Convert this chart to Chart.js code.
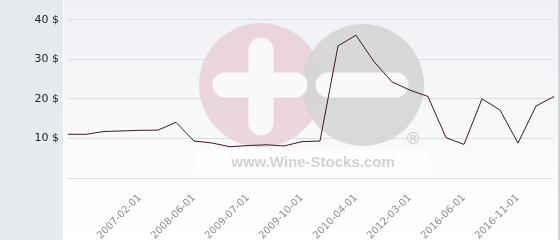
<!DOCTYPE html>
<html>
<head>
<meta charset="utf-8">
<title>Price history</title>
<script src="https://cdn.jsdelivr.net/npm/chart.js@4.4.0/dist/chart.umd.min.js"></script>
<style>
  html, body { margin: 0; padding: 0; background: #fff; }
  #wrap { width: 560px; height: 240px; position: relative; }
</style>
</head>
<body>
<div id="wrap"><canvas id="priceChart" width="560" height="240"></canvas></div>
<script>
// price points, one every few months (only some dates are printed on the axis)
const dates = ['', '', '', '', '2007-02-01', '', '', '2008-06-01', '', '', '2009-07-01', '', '',
  '2009-10-01', '', '', '2010-04-01', '', '', '2012-03-01', '', '', '2016-06-01', '', '',
  '2016-11-01', '', ''];
const prices = [11.05, 11.05, 11.75, 11.9, 12.05, 12.1, 14.1, 9.35, 8.85, 7.9, 8.2, 8.4, 8.1,
  9.2, 9.35, 33.4, 36.1, 29.4, 24.3, 22.2, 20.6, 10.2, 8.5, 20.0, 17.2, 8.8, 18.2, 20.6];
const yTicks = [0, 10, 20, 30, 40];
const currency = '$';

// background panels + the faded wine-stocks watermark
const backdrop = {
  id: 'backdrop',
  beforeDraw(chart) {
    const ctx = chart.ctx;
    ctx.save();
    ctx.fillStyle = '#e7ebee';
    ctx.fillRect(0, 0, 63, 240);
    ctx.fillStyle = '#ffffff';
    ctx.fillRect(63, 0, 1, 240);
    const g = ctx.createLinearGradient(0, 0, 0, 240);
    g.addColorStop(0, '#f0f1f5');
    g.addColorStop(1, '#ffffff');
    ctx.fillStyle = g;
    ctx.fillRect(64, 0, 494, 240);
    ctx.fillStyle = '#cfd2d6';
    ctx.fillRect(558, 0, 2, 240);
    ctx.restore();
  },
  beforeDatasetsDraw(chart) {
    const ctx = chart.ctx;
    ctx.save();
    ctx.globalAlpha = 0.9;
    // light box behind the url
    ctx.fillStyle = 'rgba(255,255,255,0.6)';
    ctx.fillRect(196, 149, 232, 25);
    // pink circle
    ctx.fillStyle = 'rgb(233,210,218)';
    ctx.beginPath();
    ctx.arc(261, 85, 62, 0, Math.PI * 2);
    ctx.fill();
    // grey circle
    ctx.fillStyle = 'rgb(213,213,214)';
    ctx.beginPath();
    ctx.arc(363, 85, 61, 0, Math.PI * 2);
    ctx.fill();
    // plus and minus
    ctx.globalAlpha = 1;
    ctx.strokeStyle = '#f9f9fb';
    ctx.lineCap = 'round';
    ctx.lineWidth = 25;
    ctx.beginPath();
    ctx.moveTo(261, 50); ctx.lineTo(261, 123);
    ctx.moveTo(225, 85); ctx.lineTo(295, 85);
    ctx.moveTo(328, 85); ctx.lineTo(396, 85);
    ctx.stroke();
    // url + registered mark
    ctx.fillStyle = '#d2d2d4';
    ctx.font = 'bold 15px "Liberation Sans", Arial, sans-serif';
    ctx.textAlign = 'center';
    ctx.textBaseline = 'alphabetic';
    ctx.fillText('www.Wine-Stocks.com', 313, 167);
    ctx.font = '16px "DejaVu Sans", sans-serif';
    ctx.fillStyle = '#c8c8ca';
    ctx.fillText('\u00AE', 413, 144);
    ctx.restore();
  }
};

const ctx = document.getElementById('priceChart').getContext('2d');
new Chart(ctx, {
  type: 'line',
  data: {
    labels: dates,
    datasets: [
      {
        label: 'Price',
        data: prices,
        fill: false,
        borderColor: '#3b1a2c',
        borderWidth: 1,
        pointRadius: 0,
        tension: 0,
      }
    ]
  },
  options: {
    responsive: false,
    animation: false,
    layout: { padding: { left: 0, right: 6, top: 0, bottom: 0 } },
    plugins: {
      legend: { display: false },
      tooltip: { enabled: false }
    },
    scales: {
      x: {
        offset: false,
        grid: { display: false },
        border: { display: false },
        afterFit(scale) {
          scale.height = 62;
          scale.paddingLeft = 0;
          scale.paddingRight = 0;
        },
        ticks: {
          autoSkip: false,
          minRotation: 45,
          maxRotation: 45,
          padding: 6,
          color: '#8c8c8c',
          font: { family: '"DejaVu Sans"', size: 10 }
        }
      },
      y: {
        min: 0,
        max: 45,
        afterFit(scale) {
          scale.width = 68;
          scale.paddingTop = 0;
          scale.paddingBottom = 0;
        },
        afterBuildTicks(scale) {
          scale.ticks = yTicks.map(v => ({ value: v }));
        },
        border: { display: false },
        grid: { color: '#dcdde3', lineWidth: 1, drawTicks: false },
        ticks: {
          padding: 9,
          color: '#222',
          font: { family: '"DejaVu Sans"', size: 11 },
          callback: v => (v === 0 ? '' : v + ' ' + currency)
        }
      }
    }
  },
  plugins: [backdrop]
});
</script>
</body>
</html>
